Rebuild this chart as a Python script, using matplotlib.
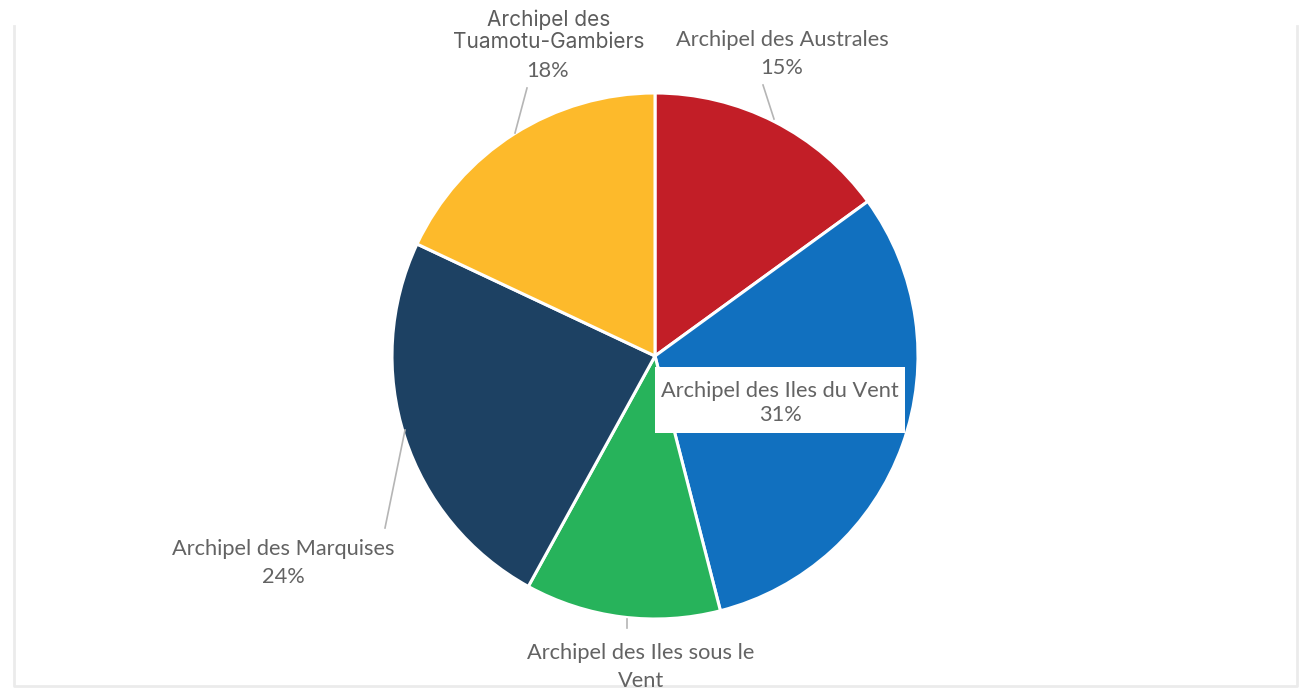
import matplotlib
matplotlib.use("Agg")
import matplotlib.pyplot as plt
from matplotlib.patches import Rectangle

# share of each archipelago, clockwise from 12 o'clock
archipels = ["Archipel des Australes", "Archipel des Iles du Vent",
             "Archipel des Iles sous le Vent", "Archipel des Marquises",
             "Archipel des Tuamotu-Gambiers"]
parts = [15, 31, 12, 24, 18]
couleurs = ["#C21E27", "#1170BF", "#27B35B", "#1D4163", "#FDBA2B"]

W, H = 1306, 691
CX, CY, R = 655, 356, 263

fig = plt.figure(figsize=(W / 100, H / 100), dpi=100)
ax = fig.add_axes([0, 0, 1, 1])

def py(y):
    # pixel rows count downwards, the axes count upwards
    return H - y

ax.pie(parts, colors=couleurs, startangle=90, counterclock=False,
       center=(CX, py(CY)), radius=R, frame=True,
       wedgeprops=dict(edgecolor="white", linewidth=2.2))
ax.set_xlim(0, W)
ax.set_ylim(0, H)
ax.set_aspect("equal")
ax.axis("off")

# faint frame of the chart area (open at the top)
fc = "#ebebeb"
ax.plot([14, 14, 1297, 1297], [py(26), py(686), py(686), py(26)],
        color=fc, lw=2.0, zorder=0)

lab = dict(fontfamily="Lato", fontsize=15.7, color="#636363",
           ha="center", va="center", linespacing=1.45)
pct = [f"{p}%" for p in parts]

# leader lines
lc = "#b5b5b5"
ax.plot([763, 774], [py(85), py(119)], color=lc, lw=1.2)
ax.plot([527, 515], [py(88), py(133)], color=lc, lw=1.2)
ax.plot([405, 385], [py(430), py(528)], color=lc, lw=1.2)
ax.plot([627, 627], [py(619), py(628)], color=lc, lw=1.2)

ax.text(782, py(54), archipels[0] + "\n" + pct[0], **lab)

ax.add_patch(Rectangle((655, py(433)), 250, 66, facecolor="white",
                       edgecolor="none", zorder=3))
ax.text(780, py(403), archipels[1] + "\n" + pct[1], zorder=4,
        **{**lab, "linespacing": 1.3})

ax.text(641, py(667), "Archipel des Iles sous le\nVent",
        **{**lab, "linespacing": 1.55})
ax.text(283, py(563), archipels[3] + "\n" + pct[3], **lab)

ax.text(549, py(31), "Archipel des\nTuamotu-Gambiers", fontfamily="Inter",
        fontsize=15, color="#5c5c5c", ha="center",
        va="center", linespacing=1.1)
ax.text(547, py(71), pct[4], **lab)

fig.savefig("out.png", dpi=100, facecolor="white")
